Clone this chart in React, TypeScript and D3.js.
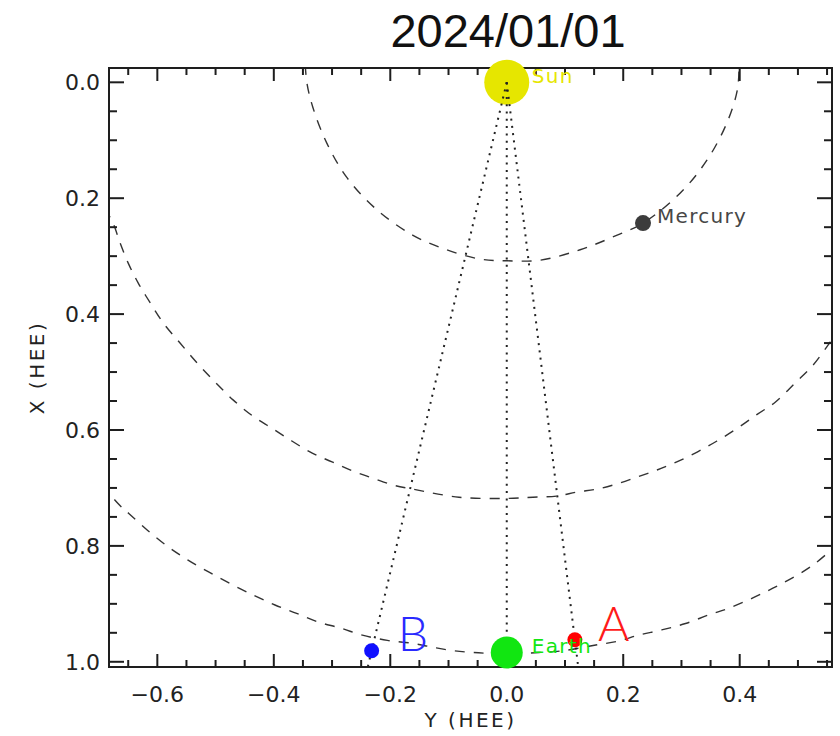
import React from "react";
import * as d3 from "d3";

// Plot frame (pixels)
const W = 840;
const H = 736;
const frame = { left: 109, right: 832, top: 68, bottom: 667 };

// Axis domains in AU (heliocentric Earth ecliptic)
const yHeeDomain: [number, number] = [-0.683, 0.5585];
const xHeeDomain: [number, number] = [-0.0247, 1.009];

const yHeeTicks = [-0.6, -0.4, -0.2, 0.0, 0.2, 0.4];
const xHeeTicks = [0.0, 0.2, 0.4, 0.6, 0.8, 1.0];
const minorStep = 0.05;

const dateLabel = "2024/01/01";
const xAxisTitle = "Y (HEE)";
const yAxisTitle = "X (HEE)";

// Orbit tracks as [Y, X] pairs
const mercuryOrbit: [number, number][] = [
  [-0.346, -0.03], [-0.343, 0.002], [-0.333, 0.043], [-0.309, 0.105],
  [-0.274, 0.165], [-0.223, 0.22], [-0.161, 0.264], [-0.103, 0.289],
  [-0.046, 0.305], [0.001, 0.308], [0.057, 0.307], [0.126, 0.289],
  [0.182, 0.267], [0.234, 0.243], [0.298, 0.191], [0.344, 0.134],
  [0.378, 0.07], [0.396, 0.013], [0.399, -0.03],
];

const venusOrbit: [number, number][] = [
  [-0.69, 0.218], [-0.676, 0.243], [-0.664, 0.277], [-0.65, 0.312],
  [-0.633, 0.346], [-0.612, 0.381], [-0.59, 0.415], [-0.561, 0.45],
  [-0.532, 0.484], [-0.501, 0.517], [-0.47, 0.548], [-0.436, 0.576],
  [-0.403, 0.597], [-0.369, 0.619], [-0.334, 0.64], [-0.3, 0.655],
  [-0.264, 0.671], [-0.23, 0.683], [-0.195, 0.695], [-0.161, 0.702],
  [-0.082, 0.716], [0.0, 0.718], [0.045, 0.716], [0.086, 0.714],
  [0.121, 0.707], [0.155, 0.702], [0.189, 0.693], [0.224, 0.681],
  [0.258, 0.669], [0.292, 0.655], [0.327, 0.638], [0.361, 0.619],
  [0.396, 0.597], [0.43, 0.573], [0.461, 0.552], [0.495, 0.519],
  [0.526, 0.488], [0.552, 0.453], [0.565, 0.435],
];

const earthOrbit: [number, number][] = [
  [-0.695, 0.695], [-0.665, 0.7295], [-0.649, 0.744], [-0.617, 0.773],
  [-0.581, 0.802], [-0.548, 0.824], [-0.512, 0.845], [-0.475, 0.865],
  [-0.435, 0.885], [-0.398, 0.902], [-0.362, 0.916], [-0.325, 0.931],
  [-0.285, 0.942], [-0.248, 0.954], [-0.205, 0.963], [-0.163, 0.968],
  [-0.131, 0.974], [-0.098, 0.98], [-0.058, 0.984], [0.0, 0.986],
  [0.055, 0.984], [0.096, 0.981], [0.153, 0.971], [0.193, 0.964],
  [0.226, 0.954], [0.266, 0.945], [0.307, 0.934], [0.347, 0.919],
  [0.38, 0.908], [0.42, 0.891], [0.457, 0.873], [0.489, 0.856],
  [0.526, 0.833], [0.565, 0.8],
];

// Body positions (Y, X in AU)
const bodyNames = ["Sun", "Mercury", "Earth", "A", "B"];
const bodyY = [0.0, 0.234, 0.0, 0.117, -0.232];
const bodyX = [0.0, 0.243, 0.984, 0.962, 0.981];

// Bodies joined to the Sun by lines of sight
const sightTargets = ["B", "Earth", "A"];

type BodyStyle = {
  color: string;
  r: number;
  labelColor: string;
  dx: number;
  dy: number;
  font: string;
  size: number;
  weight: number;
  spacing: number;
};

const bodyStyles: Record<string, BodyStyle> = {
  Sun: { color: "#e6e600", r: 22.5, labelColor: "#e6e600", dx: 25, dy: 1, font: "DejaVu Sans", size: 20, weight: 400, spacing: 1.3 },
  Mercury: { color: "#3c3c3c", r: 8, labelColor: "#474747", dx: 14, dy: 0, font: "DejaVu Sans", size: 20, weight: 400, spacing: 1.3 },
  Earth: { color: "#11e611", r: 16, labelColor: "#11e611", dx: 25, dy: 0, font: "DejaVu Sans", size: 20, weight: 400, spacing: 1.3 },
  A: { color: "#ff0000", r: 7.5, labelColor: "#ff1a1a", dx: 23, dy: 1, font: "Lato", size: 48, weight: 300, spacing: 0 },
  B: { color: "#1010ff", r: 7.5, labelColor: "#2a2aff", dx: 26, dy: 0, font: "Lato", size: 48, weight: 300, spacing: 0 },
};

const minorTicks = (domain: [number, number], majors: number[]) =>
  d3
    .range(Math.ceil(domain[0] / minorStep), Math.floor(domain[1] / minorStep) + 1)
    .map((i) => +(i * minorStep).toFixed(3))
    .filter((v) => !majors.some((m) => Math.abs(m - v) < 1e-6));

export default function App() {
  const sx = d3.scaleLinear().domain(yHeeDomain).range([frame.left, frame.right]);
  const sy = d3.scaleLinear().domain(xHeeDomain).range([frame.top, frame.bottom]);
  const fmt = d3.format(".1f");

  const line = d3
    .line<[number, number]>()
    .x((d) => sx(d[0]))
    .y((d) => sy(d[1]))
    .curve(d3.curveCatmullRom.alpha(0.5));

  const bodies = bodyNames.map((name, i) => ({ name, y: bodyY[i], x: bodyX[i] }));
  const byName = (n: string) => bodies.find((b) => b.name === n)!;
  const sun = byName("Sun");

  const xMinor = minorTicks(yHeeDomain, yHeeTicks);
  const yMinor = minorTicks(xHeeDomain, xHeeTicks);

  const axisColor = "#1e1e1e";
  const tickFont = { fontFamily: "DejaVu Sans", fontSize: 22, fill: "#222" };

  const drawOrder = ["Mercury", "B", "A", "Earth"];

  return (
    <svg
      width={W}
      height={H}
      viewBox={`0 0 ${W} ${H}`}
      style={{ position: "absolute", left: 0, top: 0, display: "block", background: "#fff" }}
    >
      <defs>
        <clipPath id="plot-area">
          <rect x={frame.left} y={frame.top} width={frame.right - frame.left} height={frame.bottom - frame.top} />
        </clipPath>
      </defs>
      <rect x={0} y={0} width={W} height={H} fill="#fff" />

      {/* title */}
      <text x={508} y={47} textAnchor="middle" fontFamily="Liberation Sans" fontSize={47} fill="#111">
        {dateLabel}
      </text>

      {/* orbits */}
      <g clipPath="url(#plot-area)" fill="none" stroke="#333" strokeWidth={1.4} strokeDasharray="10 9">
        <path d={line(mercuryOrbit) || ""} />
        <path d={line(venusOrbit) || ""} />
        <path d={line(earthOrbit) || ""} />
      </g>

      {/* frame and ticks */}
      <g stroke={axisColor} strokeWidth={2}>
        <rect x={frame.left} y={frame.top} width={frame.right - frame.left} height={frame.bottom - frame.top} fill="none" />
        {yHeeTicks.map((t) => (
          <g key={`xM${t}`}>
            <line x1={sx(t)} x2={sx(t)} y1={frame.bottom} y2={frame.bottom - 13} />
            <line x1={sx(t)} x2={sx(t)} y1={frame.top} y2={frame.top + 13} />
          </g>
        ))}
        {xMinor.map((t) => (
          <g key={`xm${t}`}>
            <line x1={sx(t)} x2={sx(t)} y1={frame.bottom} y2={frame.bottom - 7} />
            <line x1={sx(t)} x2={sx(t)} y1={frame.top} y2={frame.top + 7} />
          </g>
        ))}
        {xHeeTicks.map((t) => (
          <g key={`yM${t}`}>
            <line x1={frame.left} x2={frame.left + 15} y1={sy(t)} y2={sy(t)} />
            <line x1={frame.right} x2={frame.right - 15} y1={sy(t)} y2={sy(t)} />
          </g>
        ))}
        {yMinor.map((t) => (
          <g key={`ym${t}`}>
            <line x1={frame.left} x2={frame.left + 8} y1={sy(t)} y2={sy(t)} />
            <line x1={frame.right} x2={frame.right - 8} y1={sy(t)} y2={sy(t)} />
          </g>
        ))}
      </g>

      {/* tick labels */}
      {yHeeTicks.map((t) => (
        <text key={`xl${t}`} x={sx(t)} y={702} textAnchor="middle" {...tickFont}>
          {fmt(t)}
        </text>
      ))}
      {xHeeTicks.map((t) => (
        <text key={`yl${t}`} x={100} y={sy(t) + 8} textAnchor="end" {...tickFont}>
          {fmt(t)}
        </text>
      ))}

      {/* axis titles */}
      <text
        x={(frame.left + frame.right) / 2}
        y={727}
        textAnchor="middle"
        fontFamily="DejaVu Sans"
        fontSize={20}
        letterSpacing={2.5}
        fill="#222"
      >
        {xAxisTitle}
      </text>
      <text
        transform={`translate(44, ${(frame.top + frame.bottom) / 2}) rotate(-90)`}
        textAnchor="middle"
        fontFamily="DejaVu Sans"
        fontSize={20}
        letterSpacing={2.5}
        fill="#222"
      >
        {yAxisTitle}
      </text>

      {/* Sun */}
      <circle cx={sx(sun.y)} cy={sy(sun.x)} r={bodyStyles.Sun.r} fill={bodyStyles.Sun.color} />

      {/* lines of sight from the Sun */}
      <g clipPath="url(#plot-area)" stroke="#222" strokeWidth={2} strokeDasharray="2 5.3" fill="none">
        {sightTargets.map((n) => {
          const b = byName(n);
          const k = 1.08;
          return <line key={`los${n}`} x1={sx(sun.y)} y1={sy(sun.x)} x2={sx(b.y * k)} y2={sy(b.x * k)} />;
        })}
      </g>

      {/* planets and spacecraft */}
      {drawOrder.map((n) => {
        const b = byName(n);
        const st = bodyStyles[n];
        return <circle key={`b${n}`} cx={sx(b.y)} cy={sy(b.x)} r={st.r} fill={st.color} />;
      })}

      {/* body labels */}
      {bodies.map((b) => {
        const st = bodyStyles[b.name];
        const isBig = st.size > 30;
        return (
          <text
            key={`lbl${b.name}`}
            x={sx(b.y) + st.dx}
            y={sy(b.x) + st.dy}
            fontFamily={st.font}
            fontSize={st.size}
            fontWeight={st.weight}
            letterSpacing={st.spacing}
            fill={st.labelColor}
            dominantBaseline={isBig ? "auto" : "auto"}
          >
            {b.name}
          </text>
        );
      })}
    </svg>
  );
}
